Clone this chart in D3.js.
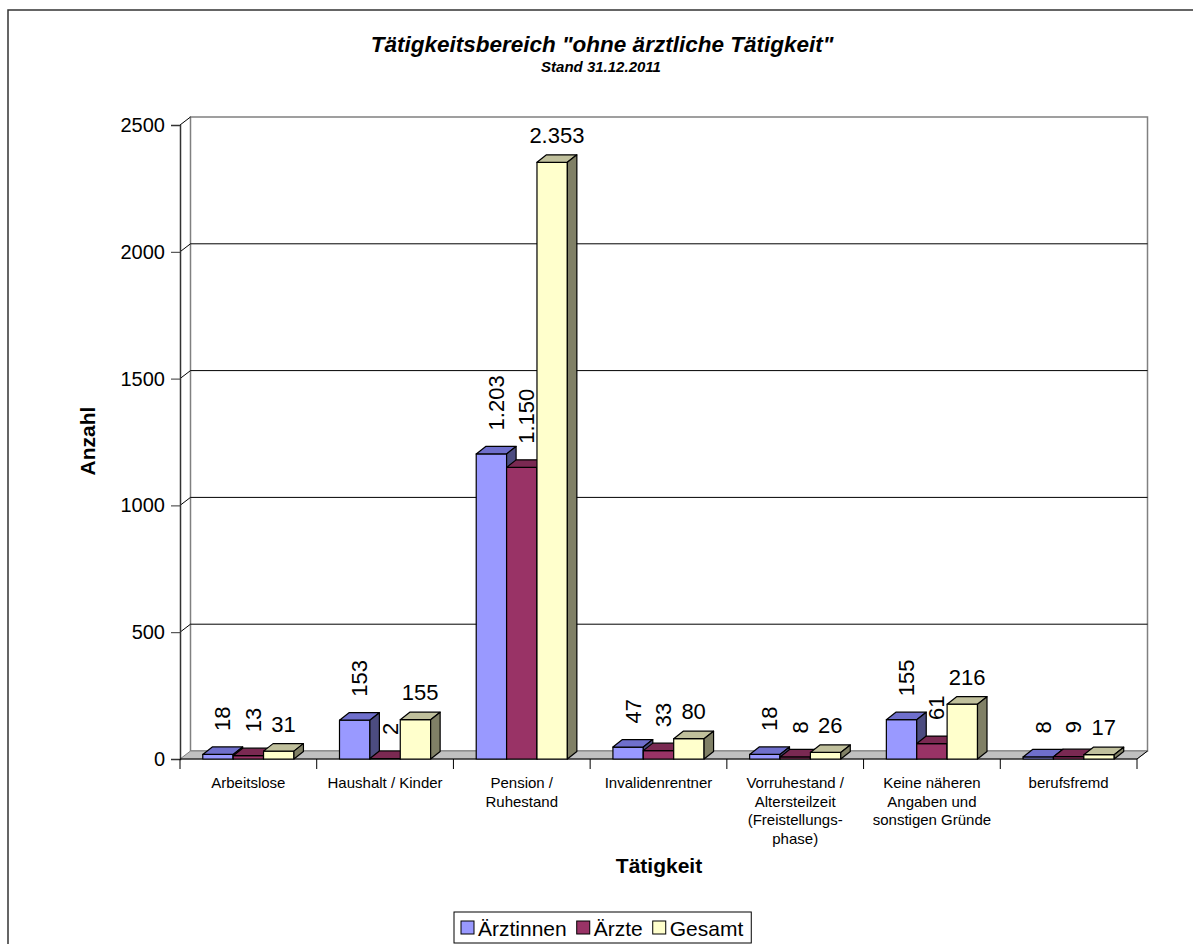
<!DOCTYPE html>
<html>
<head>
<meta charset="utf-8">
<script src="https://cdn.jsdelivr.net/npm/d3@7"></script>
<style>
  html, body { margin: 0; padding: 0; background: #fff; }
  svg { display: block; font-family: Arial, "Liberation Sans", sans-serif; }
</style>
</head>
<body>
<svg id="chart" width="1193" height="944"></svg>
<script>
// Data
const categories = [
  "Arbeitslose",
  "Haushalt / Kinder",
  "Pension /\nRuhestand",
  "Invalidenrentner",
  "Vorruhestand /\nAltersteilzeit\n(Freistellungs-\nphase)",
  "Keine näheren\nAngaben und\nsonstigen Gründe",
  "berufsfremd"
];
const seriesNames = ["Ärztinnen", "Ärzte", "Gesamt"];
const aerztinnen = [18, 153, 1203, 47, 18, 155, 8];
const aerzte = [13, 2, 1150, 33, 8, 61, 9];
const gesamt = [31, 155, 2353, 80, 26, 216, 17];
const yTicks = [0, 500, 1000, 1500, 2000, 2500];

const seriesValues = [aerztinnen, aerzte, gesamt];
const faceColors = [
  { front: "#9999FF", top: "#6F6FCC", side: "#4C4C80" },
  { front: "#993366", top: "#7A2952", side: "#4C1933" },
  { front: "#FFFFCC", top: "#C0C09C", side: "#808066" }
];

const svg = d3.select("#chart");
const de = d3.formatLocale({ decimal: ",", thousands: ".", grouping: [3], currency: ["", " €"] });
const fmt = de.format(",d");

// Plot geometry (front plane) and 3D depth offset
const x0 = 180, x1 = 1137, yBottom = 759, yTop = 125;
const depth = { dx: 10.5, dy: -8 };
const barDepth = { dx: 9.5, dy: -7.5 };

const x = d3.scaleBand().domain(categories).range([x0, x1]).paddingInner(0).paddingOuter(0);
const xs = d3.scaleBand().domain(seriesNames).range([0, x.bandwidth()]).paddingInner(0).paddingOuter(0.75);
const y = d3.scaleLinear().domain([0, 2500]).range([yBottom, yTop]);

// Outer frame
svg.append("path")
  .attr("d", `M8,960 L8,10 L1200,10`)
  .attr("fill", "none").attr("stroke", "#333").attr("stroke-width", 1.5);

// Back wall
svg.append("rect")
  .attr("x", x0 + depth.dx).attr("y", y(2500) + depth.dy)
  .attr("width", x1 - x0).attr("height", y(0) - y(2500))
  .attr("fill", "#fff").attr("stroke", "#808080").attr("stroke-width", 1.5);

// Gridlines across side wall and back wall
const grid = svg.append("g");
yTicks.filter(t => t > 0 && t < 2500).forEach(t => {
  grid.append("path")
    .attr("d", `M${x0},${y(t)} L${x0 + depth.dx},${y(t) + depth.dy} L${x1 + depth.dx},${y(t) + depth.dy}`)
    .attr("fill", "none").attr("stroke", "#000").attr("stroke-width", 1);
});
grid.append("path")
  .attr("d", `M${x0},${y(2500)} L${x0 + depth.dx},${y(2500) + depth.dy}`)
  .attr("fill", "none").attr("stroke", "#000").attr("stroke-width", 1);

// Floor
svg.append("path")
  .attr("d", `M${x0},${y(0)} L${x1},${y(0)} L${x1 + depth.dx},${y(0) + depth.dy} L${x0 + depth.dx},${y(0) + depth.dy} Z`)
  .attr("fill", "#C0C0C0").attr("stroke", "#808080").attr("stroke-width", 1);

// Value axis
const yAxisG = svg.append("g").attr("transform", `translate(${x0},0)`)
  .call(d3.axisLeft(y).tickValues(yTicks).tickFormat(d3.format("d")).tickSize(9).tickPadding(6));
yAxisG.select(".domain").attr("stroke", "#333").attr("stroke-width", 1.5);
yAxisG.selectAll(".tick line").attr("stroke", "#333");
yAxisG.selectAll(".tick text").attr("font-size", 20).attr("fill", "#000")
  .attr("font-family", "Arial, 'Liberation Sans', sans-serif");

// Category axis with ticks at band boundaries
const catAxis = svg.append("g");
catAxis.append("line").attr("x1", x0).attr("x2", x1).attr("y1", yBottom).attr("y2", yBottom)
  .attr("stroke", "#000").attr("stroke-width", 1);
catAxis.append("line").attr("x1", x1).attr("y1", yBottom).attr("x2", x1 + depth.dx).attr("y2", yBottom + depth.dy)
  .attr("stroke", "#000").attr("stroke-width", 1);
const boundaries = categories.map(c => x(c)).concat([x1]);
catAxis.selectAll("line.tk").data(boundaries).join("line").attr("class", "tk")
  .attr("x1", d => d).attr("x2", d => d).attr("y1", yBottom).attr("y2", yBottom + 10)
  .attr("stroke", "#000").attr("stroke-width", 1);

// Category labels
const catLabels = svg.append("g").attr("font-size", 15).attr("fill", "#000").attr("text-anchor", "middle");
categories.forEach(c => {
  const t = catLabels.append("text").attr("x", x(c) + x.bandwidth() / 2).attr("y", 788);
  c.split("\n").forEach((line, i) => {
    t.append("tspan").attr("x", x(c) + x.bandwidth() / 2).attr("y", 788 + i * 18.5).text(line);
  });
});

// Bars (front, top and side faces), left to right
const bars = svg.append("g").attr("stroke", "#000").attr("stroke-width", 1.2).attr("stroke-linejoin", "round");
categories.forEach((c, ci) => {
  seriesNames.forEach((s, si) => {
    const v = seriesValues[si][ci];
    const bx = x(c) + xs(s), bw = xs.bandwidth();
    const by = y(v), yb = y(0);
    const { dx, dy } = barDepth;
    const col = faceColors[si];
    const g = bars.append("g");
    g.append("path").attr("fill", col.front)
      .attr("d", `M${bx},${yb} L${bx + bw},${yb} L${bx + bw},${by} L${bx},${by} Z`);
    g.append("path").attr("fill", col.top)
      .attr("d", `M${bx},${by} L${bx + bw},${by} L${bx + bw + dx},${by + dy} L${bx + dx},${by + dy} Z`);
    g.append("path").attr("fill", col.side)
      .attr("d", `M${bx + bw},${yb} L${bx + bw + dx},${yb + dy} L${bx + bw + dx},${by + dy} L${bx + bw},${by} Z`);
  });
});

// Value labels: first two series rotated, totals horizontal
const labels = svg.append("g").attr("font-size", 22).attr("fill", "#000");
categories.forEach((c, ci) => {
  seriesNames.forEach((s, si) => {
    const v = seriesValues[si][ci];
    const cx = x(c) + xs(s) + xs.bandwidth() / 2 + barDepth.dx / 2;
    const topBack = y(v) + barDepth.dy;
    if (si < 2) {
      labels.append("text")
        .attr("transform", `translate(${cx},${topBack - 16}) rotate(-90)`)
        .attr("text-anchor", "start").attr("dy", "0.35em")
        .text(fmt(v));
    } else {
      labels.append("text")
        .attr("x", cx).attr("y", topBack - 12)
        .attr("text-anchor", "middle")
        .text(fmt(v));
    }
  });
});

// Titles
svg.append("text").attr("x", 602).attr("y", 52).attr("text-anchor", "middle")
  .attr("font-size", 22.5).attr("font-weight", "bold").attr("font-style", "italic")
  .text('Tätigkeitsbereich "ohne ärztliche Tätigkeit"');
svg.append("text").attr("x", 601).attr("y", 72).attr("text-anchor", "middle")
  .attr("font-size", 15).attr("font-weight", "bold").attr("font-style", "italic")
  .text("Stand 31.12.2011");
svg.append("text").attr("transform", "translate(95,441) rotate(-90)").attr("text-anchor", "middle")
  .attr("font-size", 21).attr("font-weight", "bold").text("Anzahl");
svg.append("text").attr("x", 659).attr("y", 873).attr("text-anchor", "middle")
  .attr("font-size", 21).attr("font-weight", "bold").text("Tätigkeit");

// Legend
const legend = svg.append("g");
const legendBox = legend.append("rect").attr("x", 454).attr("y", 912).attr("width", 290).attr("height", 31)
  .attr("fill", "#fff").attr("stroke", "#000").attr("stroke-width", 1);
let lx = 461;
seriesNames.forEach((s, si) => {
  legend.append("rect").attr("x", lx).attr("y", 921).attr("width", 13).attr("height", 13)
    .attr("fill", faceColors[si].front).attr("stroke", "#000").attr("stroke-width", 1);
  const t = legend.append("text").attr("x", lx + 17).attr("y", 935.5).attr("font-size", 21).text(s);
  lx += 17 + t.node().getComputedTextLength() + 10;
});
legendBox.attr("width", lx - 454 - 2);
</script>
</body>
</html>
